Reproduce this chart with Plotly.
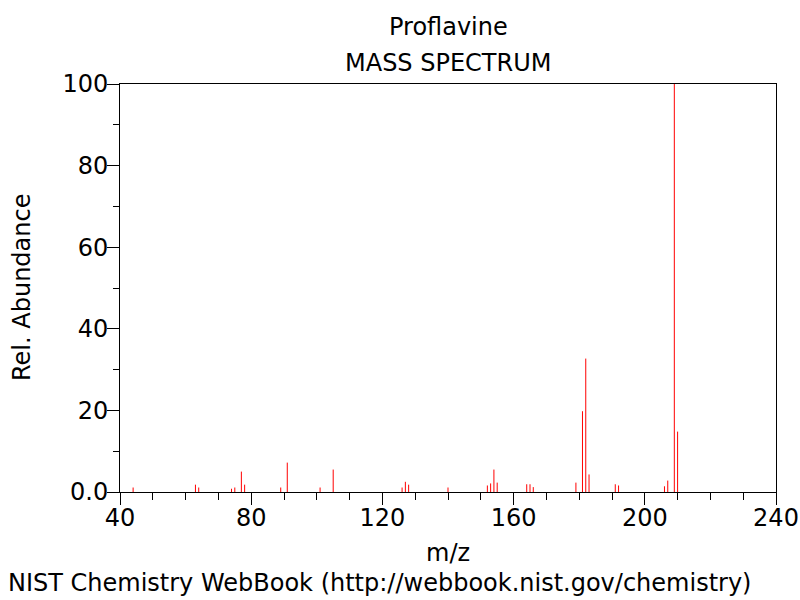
import plotly.graph_objects as go

# Peak data
mz = [44, 63, 64, 74, 75, 77, 78, 89, 91, 101, 105, 126, 127, 128, 140,
      152, 153, 154, 155, 164, 165, 166, 179, 181, 182, 183, 191, 192,
      206, 207, 209, 210]
abundance = [1.1, 1.8, 1.1, 0.8, 1.1, 5.0, 1.8, 1.1, 7.2, 1.1, 5.5, 1.1, 2.5, 1.8, 1.1,
             1.6, 2.1, 5.5, 2.3, 1.9, 1.9, 1.2, 2.3, 19.8, 32.7, 4.3, 1.9, 1.6,
             1.4, 2.8, 100.0, 14.8]

x_ticks = [40, 80, 120, 160, 200, 240]
y_ticks = [0, 20, 40, 60, 80, 100]
y_tick_text = ["0.0", "20", "40", "60", "80", "100"]

xs, ys = [], []
for m, a in zip(mz, abundance):
    xs += [m, m, None]
    ys += [0, a, None]

FONT = "DejaVu Sans"
FS = 24

W, H = 800, 600
L, T = 120, 84
plot_w, plot_h = 656, 408
R = W - L - plot_w
B = H - T - plot_h


def py(pix):
    # window pixel y -> paper fraction
    return (T + plot_h - pix) / plot_h


def px(pix):
    return (pix - L) / plot_w


fig = go.Figure(go.Scatter(x=xs, y=ys, mode="lines",
                           line=dict(color="red", width=1),
                           hoverinfo="skip", showlegend=False))

fig.update_layout(
    width=W, height=H,
    margin=dict(l=L, r=R, t=T, b=B, autoexpand=False),
    paper_bgcolor="white", plot_bgcolor="white",
    font=dict(family=FONT, size=FS, color="black"),
    xaxis=dict(range=[40, 240], tickvals=x_ticks, ticks="outside", ticklen=12,
               tickwidth=1, tickcolor="black", showline=True, linecolor="black",
               linewidth=1, mirror=True, showgrid=False, zeroline=False,
               automargin=False, ticklabelstandoff=-8,
               tickfont=dict(size=FS),
               minor=dict(dtick=10, ticks="outside", ticklen=7, tickcolor="black", tickwidth=1)),
    yaxis=dict(range=[0, 100], tickvals=y_ticks, ticktext=y_tick_text, ticks="outside",
               ticklen=12, tickwidth=1, tickcolor="black", showline=True,
               linecolor="black", linewidth=1, mirror=True, showgrid=False,
               zeroline=False, automargin=False, ticklabelstandoff=-6,
               tickfont=dict(size=FS),
               minor=dict(dtick=10, ticks="outside", ticklen=6, tickcolor="black", tickwidth=1)),
    annotations=[
        dict(text="Proflavine", x=0.5, xref="paper", y=py(27), yref="paper",
             yanchor="middle", showarrow=False),
        dict(text="MASS SPECTRUM", x=0.5, xref="paper", y=py(63), yref="paper",
             yanchor="middle", showarrow=False),
        dict(text="m/z", x=0.5, xref="paper", y=py(553), yref="paper",
             yanchor="middle", showarrow=False),
        dict(text="Rel. Abundance", x=px(22), xref="paper", xanchor="center",
             y=0.5, yref="paper", showarrow=False, textangle=-90),
        dict(text="NIST Chemistry WebBook (http://webbook.nist.gov/chemistry)",
             x=px(6), xref="paper", xanchor="left", y=py(583), yref="paper",
             yanchor="middle", showarrow=False),
    ],
)

fig.write_html("out.html",
               config={"displayModeBar": False},
               post_script="document.body.style.margin='0';document.body.style.overflow='hidden';")
